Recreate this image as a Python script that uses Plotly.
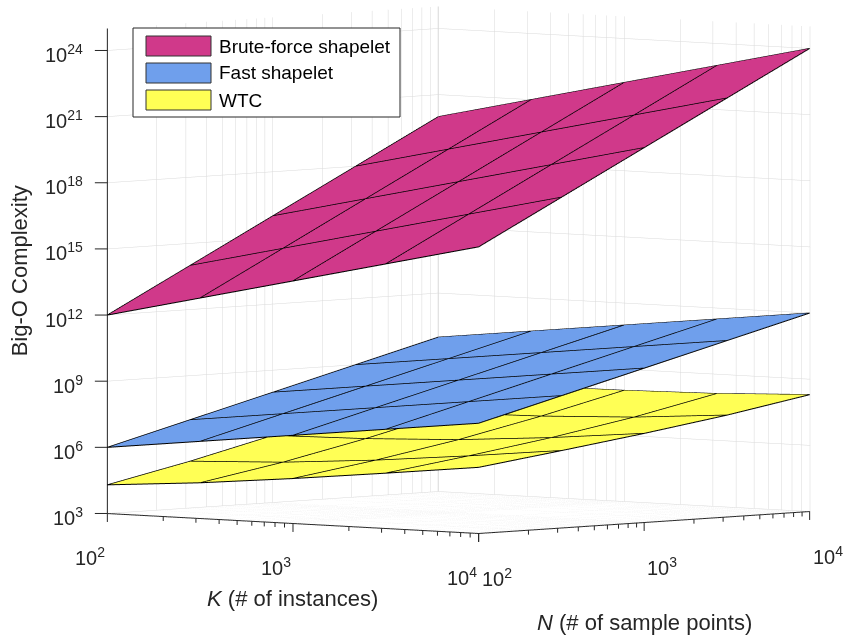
import math
import plotly.graph_objects as go

# ---------------- data (log10 values) ----------------
K_EXP = [2.0, 2.5, 3.0, 3.5, 4.0]   # log10 K  (# of instances)
N_EXP = [2.0, 2.5, 3.0, 3.5, 4.0]   # log10 N  (# of sample points)

# log10 of Big-O complexity; rows follow N_EXP, columns follow K_EXP
BRUTE_FORCE = [
    [12.0, 13.0, 14.0, 15.0, 16.0],
    [14.0, 15.0, 16.0, 17.0, 18.0],
    [16.0, 17.0, 18.0, 19.0, 20.0],
    [18.0, 19.0, 20.0, 21.0, 22.0],
    [20.0, 21.0, 22.0, 23.0, 24.0],
]
FAST_SHAPELET = [
    [6.0, 6.5, 7.0, 7.5, 8.0],
    [7.0, 7.5, 8.0, 8.5, 9.0],
    [8.0, 8.5, 9.0, 9.5, 10.0],
    [9.0, 9.5, 10.0, 10.5, 11.0],
    [10.0, 10.5, 11.0, 11.5, 12.0],
]
WTC = [
    [4.30, 4.62, 5.04, 5.51, 6.00],
    [5.12, 5.30, 5.62, 6.04, 6.51],
    [6.04, 6.12, 6.30, 6.62, 7.04],
    [7.01, 7.04, 7.12, 7.30, 7.62],
    [8.00, 8.01, 8.04, 8.12, 8.30],
]

SERIES_NAMES = ["Brute-force shapelet", "Fast shapelet", "WTC"]
SERIES_COLORS = ["#D0398A", "#6F9FEC", "#FFFF55"]

Z_TICK_EXP = [3, 6, 9, 12, 15, 18, 21, 24]
KN_TICK_EXP = [2, 3, 4]
Z_LIM = [3, 25]
KN_LIM = [2, 4]
EPS = 0.002   # tiny padding so the axis lines on the box edges are not clipped

FONT = "Liberation Sans, Arial, sans-serif"
AX_COLOR = "#262626"

# minor log ticks (2..9 x 10^e) for K and N axes
kn_ticks = []
for e in KN_TICK_EXP[:-1]:
    for m in range(1, 10):
        kn_ticks.append(e + math.log10(m))
kn_ticks.append(KN_TICK_EXP[-1])

fig = go.Figure()

for name, zz, col in zip(SERIES_NAMES, [BRUTE_FORCE, FAST_SHAPELET, WTC], SERIES_COLORS):
    fig.add_trace(go.Surface(
        x=K_EXP, y=N_EXP, z=zz, name=name,
        colorscale=[[0, col], [1, col]], showscale=False,
        lighting=dict(ambient=1.0, diffuse=0.0, specular=0.0, roughness=1.0, fresnel=0.0),
        contours=dict(
            x=dict(show=True, start=K_EXP[0], end=K_EXP[-1], size=0.5, color="black", width=1, highlight=False),
            y=dict(show=True, start=N_EXP[0], end=N_EXP[-1], size=0.5, color="black", width=1, highlight=False),
            z=dict(highlight=False),
        ),
        hoverinfo="skip",
    ))
    # mesh lines (every row / column) drawn from the same data
    xs, ys, zs = [], [], []
    for j in range(len(N_EXP)):
        xs += K_EXP + [None]
        ys += [N_EXP[j]] * len(K_EXP) + [None]
        zs += list(zz[j]) + [None]
    for i in range(len(K_EXP)):
        xs += [K_EXP[i]] * len(N_EXP) + [None]
        ys += N_EXP + [None]
        zs += [zz[j][i] for j in range(len(N_EXP))] + [None]
    fig.add_trace(go.Scatter3d(x=xs, y=ys, z=zs, mode="lines",
                               line=dict(color="black", width=2),
                               hoverinfo="skip", showlegend=False))

# axis lines (z axis at the K/N minimum corner, K and N axes along the front floor edges)
fig.add_trace(go.Scatter3d(
    x=[KN_LIM[0], KN_LIM[0], None, KN_LIM[0], KN_LIM[1], KN_LIM[1]],
    y=[KN_LIM[0], KN_LIM[0], None, KN_LIM[0], KN_LIM[0], KN_LIM[1]],
    z=[Z_LIM[0], Z_LIM[1], None, Z_LIM[0], Z_LIM[0], Z_LIM[0]],
    mode="lines", line=dict(color=AX_COLOR, width=2), hoverinfo="skip", showlegend=False))


def sup(e):
    return "10<sup>%d</sup>" % e


ann = []
# tick marks (pixel-length marks anchored at the tick positions)
for e in Z_TICK_EXP:
    ann.append(dict(x=KN_LIM[0], y=KN_LIM[0], z=e, text="", showarrow=True, arrowhead=0,
                    arrowwidth=1, arrowcolor=AX_COLOR, ax=-14, ay=0, standoff=0, startstandoff=0))
for t in kn_ticks:
    major = abs(t - round(t)) < 1e-9
    ln = 10 if major else 6
    ann.append(dict(x=t, y=KN_LIM[0], z=Z_LIM[0], text="", showarrow=True, arrowhead=0,
                    arrowwidth=1, arrowcolor=AX_COLOR, ax=0, ay=ln, standoff=0, startstandoff=0))
    ann.append(dict(x=KN_LIM[1], y=t, z=Z_LIM[0], text="", showarrow=True, arrowhead=0,
                    arrowwidth=1, arrowcolor=AX_COLOR, ax=0, ay=ln, standoff=0, startstandoff=0))

tick_font = dict(family=FONT, size=20, color=AX_COLOR)
for e in Z_TICK_EXP:
    ann.append(dict(x=KN_LIM[0], y=KN_LIM[0], z=e, text=sup(e), showarrow=False,
                    xanchor="right", yanchor="middle", xshift=-22, yshift=-3, font=tick_font))
for e in KN_TICK_EXP:
    ann.append(dict(x=e, y=KN_LIM[0], z=Z_LIM[0], text=sup(e), showarrow=False,
                    xanchor="center", yanchor="middle", xshift=-17, yshift=-43, font=tick_font))
    ann.append(dict(x=KN_LIM[1], y=e, z=Z_LIM[0], text=sup(e), showarrow=False,
                    xanchor="center", yanchor="middle", xshift=18, yshift=-44, font=tick_font))
title_font = dict(family=FONT, size=22, color=AX_COLOR)
ann.append(dict(x=3, y=KN_LIM[0], z=Z_LIM[0], text="<i>K</i> (# of instances)", showarrow=False,
                xanchor="center", yanchor="middle", yshift=-75, font=title_font))
ann.append(dict(x=KN_LIM[1], y=3, z=Z_LIM[0], text="<i>N</i> (# of sample points)", showarrow=False,
                xanchor="center", yanchor="middle", yshift=-100, font=title_font))
ann.append(dict(x=KN_LIM[0], y=KN_LIM[0], z=14, text="Big-O Complexity", showarrow=False, textangle=-90,
                xanchor="center", yanchor="middle", xshift=-87, font=title_font))

axis_common = dict(
    showbackground=False, showgrid=True, gridcolor="#d9d9d9", gridwidth=1,
    zeroline=False, showline=False, ticks="", showticklabels=False, title=dict(text=""),
    showspikes=False, autorange=False,
)

SCALE = 1.80
fig.update_layout(
    width=845, height=639,
    margin=dict(l=0, r=0, t=0, b=0),
    paper_bgcolor="white",
    showlegend=False,
    hovermode=False,
    scene=dict(
        domain=dict(x=[0.0852, 1.0], y=[0.155, 1.0]),
        xaxis=dict(axis_common, range=[KN_LIM[0] - EPS, KN_LIM[1] + EPS], tickvals=kn_ticks),
        yaxis=dict(axis_common, range=[KN_LIM[0] - EPS, KN_LIM[1] + EPS], tickvals=kn_ticks),
        zaxis=dict(axis_common, range=[Z_LIM[0] - EPS, Z_LIM[1]], tickvals=Z_TICK_EXP),
        aspectmode="manual",
        aspectratio=dict(x=1.03 * SCALE, y=1.02 * SCALE, z=1.0 * SCALE),
        camera=dict(
            projection=dict(type="orthographic"),
            eye=dict(x=0.902, y=-1.002, z=0.0807),
            up=dict(x=0, y=0, z=1),
            center=dict(x=0, y=0, z=0),
        ),
        annotations=ann,
    ),
)

# legend (drawn in paper coordinates)
W, H = 845.0, 639.0
def px(x):
    return x / W
def py(y):
    return 1 - y / H

shapes = [dict(type="rect", xref="paper", yref="paper", x0=px(133), x1=px(400), y0=py(28), y1=py(117),
               line=dict(color=AX_COLOR, width=1), fillcolor="white", layer="above")]
annots = []
for i, (name, col) in enumerate(zip(SERIES_NAMES, SERIES_COLORS)):
    yc = 46 + 27 * i
    shapes.append(dict(type="rect", xref="paper", yref="paper", x0=px(146), x1=px(211),
                       y0=py(yc - 10), y1=py(yc + 10), line=dict(color="#333333", width=1),
                       fillcolor=col, layer="above"))
    annots.append(dict(xref="paper", yref="paper", x=px(217), y=py(yc), text=name, showarrow=False,
                       xanchor="left", yanchor="middle", font=dict(family=FONT, size=19, color="black")))
fig.update_layout(shapes=shapes, annotations=annots)

fig.write_html("out.html")
